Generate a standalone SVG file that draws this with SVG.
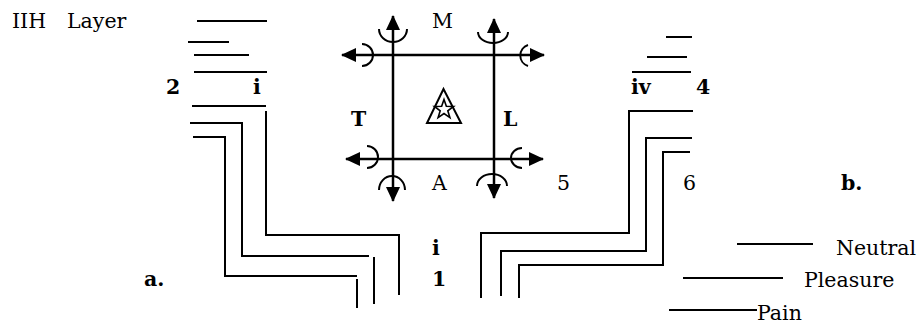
<svg xmlns="http://www.w3.org/2000/svg" width="919" height="324" viewBox="0 0 919 324">
<style>
.t{font-family:"DejaVu Serif","Liberation Serif",serif;font-size:20.5px;fill:#000}
.b{font-weight:bold}
.ln{stroke:#000;stroke-width:2;fill:none}
.sq{stroke:#000;stroke-width:2.5;fill:none}
.arc{stroke:#000;stroke-width:2;fill:none}
</style>
<defs>
<marker id="ah" viewBox="0 0 15 14" refX="14" refY="7" markerWidth="15" markerHeight="14" markerUnits="userSpaceOnUse" orient="auto-start-reverse">
<path d="M0,0 L15,7 L0,14 z" fill="#000"/>
</marker>
</defs>
<rect width="919" height="324" fill="#fff"/>

<g id="title">
<text class="t" x="12" y="28">IIH<tspan x="67">Layer</tspan></text>
</g>

<g id="square">
<line class="sq" x1="342" y1="55" x2="544" y2="55" marker-start="url(#ah)" marker-end="url(#ah)"/>
<line class="sq" x1="346" y1="159" x2="543" y2="159" marker-start="url(#ah)" marker-end="url(#ah)"/>
<line class="sq" x1="393" y1="16" x2="393" y2="201" marker-start="url(#ah)" marker-end="url(#ah)"/>
<line class="sq" x1="494" y1="19" x2="494" y2="198" marker-start="url(#ah)" marker-end="url(#ah)"/>
<path class="arc" d="M379,29 A14,13 0 0 0 407,29"/>
<path class="arc" d="M478,32 A15,11 0 0 0 508,32"/>
<path class="arc" d="M362,44 A11,11 0 0 1 362,66"/>
<path class="arc" d="M528,45 A11,11 0 0 0 528,66"/>
<path class="arc" d="M367,146 A11,11 0 0 1 367,168"/>
<path class="arc" d="M522,148 A11,10 0 0 0 522,168"/>
<path class="arc" d="M379,190 A13,14 0 0 1 405,190"/>
<path class="arc" d="M477,186 A15,12 0 0 1 507,186"/>
<polygon points="443.5,89 427,123 461,123" fill="none" stroke="#000" stroke-width="2"/>
<polygon points="444,99.5 446.35,106.26 453.51,106.41 447.8,110.74 449.88,117.59 444,113.5 438.12,117.59 440.2,110.74 434.49,106.41 441.65,106.26" fill="none" stroke="#000" stroke-width="1.6" stroke-linejoin="miter"/>
<text class="t" x="432" y="28">M</text>
<text class="t" x="432" y="190">A</text>
<text class="t b" x="351" y="126">T</text>
<text class="t b" x="503" y="126">L</text>
</g>

<g id="left-layers">
<line class="ln" x1="197" y1="21" x2="267" y2="21"/>
<line class="ln" x1="188" y1="42" x2="229" y2="42"/>
<line class="ln" x1="194" y1="55" x2="249" y2="55"/>
<line class="ln" x1="194" y1="72" x2="267" y2="72"/>
<text class="t b" x="166" y="94">2</text>
<text class="t b" x="253" y="94">i</text>
</g>

<g id="right-layers">
<line class="ln" x1="666" y1="37" x2="692" y2="37"/>
<line class="ln" x1="647" y1="57" x2="687" y2="57" stroke-width="2.5"/>
<line class="ln" x1="632" y1="72" x2="691" y2="72"/>
<text class="t b" x="631" y="94">iv</text>
<text class="t b" x="696" y="94">4</text>
</g>

<g id="connectors">
<line class="ln" x1="192" y1="106" x2="266" y2="106"/>
<polyline class="ln" points="266,111 266,235 399,235 399,295"/>
<polyline class="ln" points="190,123 242,123 242,256 369,256"/>
<line class="ln" x1="374" y1="257" x2="374" y2="304"/>
<polyline class="ln" points="193,137 225,137 225,276 357,276"/>
<line class="ln" x1="357" y1="279" x2="357" y2="308"/>
<polyline class="ln" points="693,111 629,111 629,233 481,233 481,298"/>
<polyline class="ln" points="692,138 646,138 646,251 501,251 501,296"/>
<polyline class="ln" points="690,152 663,152 663,265 519,265 519,298"/>
</g>

<g id="labels">
<text class="t b" x="432" y="255">i</text>
<text class="t b" x="432" y="286">1</text>
<text class="t b" x="144" y="286">a.</text>
<text class="t" x="557" y="190">5</text>
<text class="t" x="683" y="190">6</text>
<text class="t b" x="841" y="190">b.</text>
</g>

<g id="legend">
<line class="ln" x1="737" y1="244" x2="813" y2="244"/>
<text class="t" x="836" y="255">Neutral</text>
<line class="ln" x1="683" y1="278" x2="783" y2="278"/>
<text class="t" x="804" y="287">Pleasure</text>
<line class="ln" x1="669" y1="310" x2="757" y2="310"/>
<text class="t" x="757" y="320">Pain</text>
</g>
</svg>
